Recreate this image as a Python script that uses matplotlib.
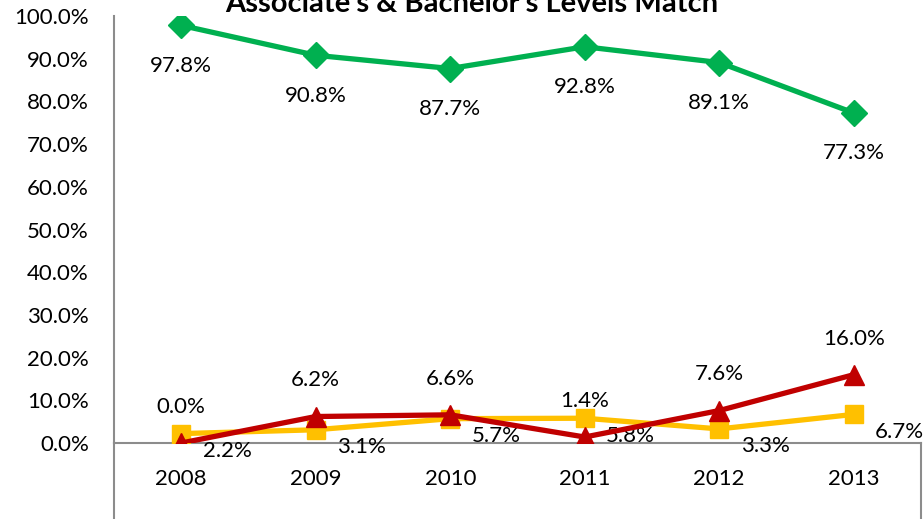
import matplotlib.pyplot as plt
from matplotlib.lines import Line2D

years = ['2008', '2009', '2010', '2011', '2012', '2013']
match = [97.8, 90.8, 87.7, 92.8, 89.1, 77.3]
under = [2.2, 3.1, 5.7, 5.8, 3.3, 6.7]
over = [0.0, 6.2, 6.6, 1.4, 7.6, 16.0]

plt.rcParams['font.family'] = ['Lato', 'DejaVu Sans']

fig = plt.figure(figsize=(9.24, 5.19), dpi=100)
ax = fig.add_axes([114 / 924, 1 - 443 / 519, 807 / 924, 427 / 519])

x = list(range(len(years)))
ax.plot(x, match, color='#00B050', lw=3.8, marker='D', ms=13, zorder=3)
ax.plot(x, under, color='#FFC000', lw=3.8, marker='s', ms=13, zorder=3)
ax.plot(x, over, color='#C00000', lw=3.8, marker='^', ms=14, zorder=4)

for i in x:
    ax.annotate(f'{match[i]:.1f}%', (i, match[i]), xytext=(0, -29),
                textcoords='offset points', ha='center', va='center', fontsize=16)
    ax.annotate(f'{under[i]:.1f}%', (i, under[i]), xytext=(33, -12.5),
                textcoords='offset points', ha='center', va='center', fontsize=16)
    ax.annotate(f'{over[i]:.1f}%', (i, over[i]), xytext=(0, 26),
                textcoords='offset points', ha='center', va='center', fontsize=16)

ax.set_xlim(-0.5, 5.5)
ax.set_ylim(0, 100)
ax.set_xticks(x)
ax.set_xticklabels(years)
ax.set_yticks(range(0, 101, 10))
ax.set_yticklabels([f'{v:.1f}%' for v in range(0, 101, 10)])
ax.tick_params(axis='both', length=0, labelsize=16)
ax.tick_params(axis='y', pad=18)
ax.tick_params(axis='x', pad=19)
for s in ['top', 'right']:
    ax.spines[s].set_visible(False)
for s in ['left', 'bottom']:
    ax.spines[s].set_color('#8C8C8C')
    ax.spines[s].set_linewidth(1.5)

# box under the category axis
fig.add_artist(Line2D([114 / 924, 114 / 924], [0, 1 - 443 / 519], color='#8C8C8C', lw=1.5))
fig.add_artist(Line2D([921 / 924, 921 / 924], [0, 1 - 443 / 519], color='#8C8C8C', lw=1.5))

fig.text(472 / 924, 1 - 12 / 519, "Associate's & Bachelor's Levels Match",
         ha='center', va='baseline', fontsize=21, fontweight='bold')

fig.savefig('out.png', dpi=100)
